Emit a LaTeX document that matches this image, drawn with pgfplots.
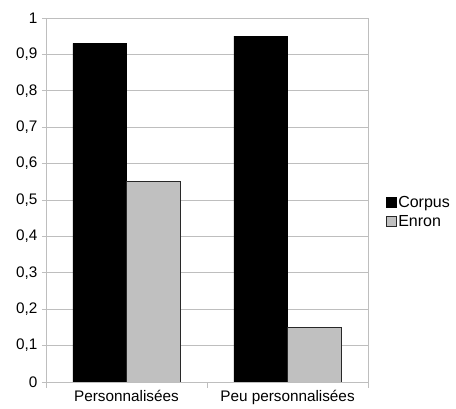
\documentclass[border=0pt]{standalone}
\usepackage{pgfplots}
\pgfplotsset{compat=1.18}
\usepackage{fontspec}
\setmainfont{Liberation Sans}
\definecolor{gridgray}{RGB}{190,190,190}
\definecolor{enron}{RGB}{192,192,192}
\definecolor{edge}{RGB}{40,40,40}
\begin{document}
\begin{tikzpicture}[x=1pt,y=1pt]
\begin{axis}[
  scale only axis,
  width=322pt, height=364pt,
  at={(0,0)}, anchor=south west,
  xmin=-0.5, xmax=1.5,
  ymin=0, ymax=1,
  ytick={0,0.1,...,1.01},
  xtick={0,1},
  xticklabels={Personnalisées,Peu personnalisées},
  minor xtick={-0.5,0.5,1.5},
  major x tick style={draw=none},
  minor x tick style={gridgray, line width=0.8pt},
  minor tick length=6pt,
  ytick style={gridgray, line width=0.8pt},
  major tick length=4pt,
  tick align=outside,
  ymajorgrids,
  major grid style={gridgray, line width=0.8pt},
  axis line style={gridgray, line width=0.8pt},
  xtick pos=bottom, ytick pos=left,
  /pgf/number format/assume math mode=true,
  /pgf/number format/use comma,
  /pgf/number format/fixed,
  /pgf/number format/precision=1,
  tick label style={font=\fontsize{15.3}{17}\selectfont, text=black},
  yticklabel style={xshift=-1pt},
  xticklabel style={yshift=-1pt},
  ybar=0pt,
  bar width=0.333,
  legend style={at={(1.045,0.467)}, anchor=west, draw=none, fill=none,
    font=\fontsize{16}{18}\selectfont, row sep=2pt,
    legend cell align=left, nodes={inner xsep=2pt}},
  legend image code/.code={\draw[#1, line width=0.6pt] (0pt,-5pt) rectangle (10pt,5pt);},
]
\addplot[fill=black, draw=black, line width=0.6pt] coordinates {(0,0.93) (1,0.95)};
\addlegendentry{Corpus}
\addplot[fill=enron, draw=edge, line width=0.6pt] coordinates {(0,0.55) (1,0.15)};
\addlegendentry{Enron}
\end{axis}
\pgfresetboundingbox
\useasboundingbox (-46,-27) rectangle (410,382);
\end{tikzpicture}
\end{document}
